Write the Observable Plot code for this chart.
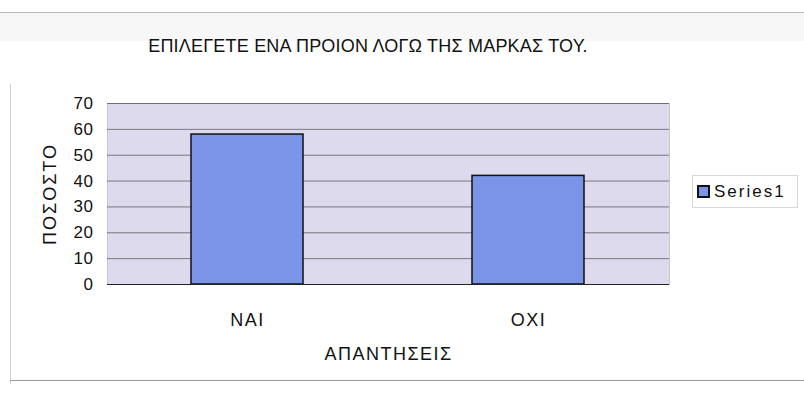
<!DOCTYPE html>
<html>
<head>
<meta charset="utf-8">
<script src="https://cdn.jsdelivr.net/npm/d3@7"></script>
<script src="https://cdn.jsdelivr.net/npm/@observablehq/plot@0.6"></script>
<style>
  html, body { margin: 0; padding: 0; background: #fff; }
  #wrap { position: relative; width: 804px; height: 393px; overflow: hidden;
          font-family: "Liberation Sans", Arial, sans-serif; }
  #frameTop { position: absolute; left: 0; top: 12px; width: 804px; height: 28px;
              border-top: 1px solid #b8b8b8; background: #f7f7f7; }
  #frameLeft { position: absolute; left: 10px; top: 84px; width: 0; height: 300px; border-left: 1px solid #cfcfcf; }
  #frameBottom { position: absolute; left: 10px; top: 380px; width: 794px; height: 0; border-top: 1px solid #9a9a9a; }
  #title { position: absolute; left: 0; top: 36px; width: 736px; text-align: center;
           font-size: 18px; color: #111; letter-spacing: 0.2px; white-space: nowrap; }
  #chart { position: absolute; left: 0; top: 0; }
  #legend { position: absolute; left: 692px; top: 175px; width: 106px; height: 33px; box-sizing: border-box;
            border: 1px solid #d8d8d8; background: #fff; font-size: 17px; color: #111; letter-spacing: 2px;
            display: flex; align-items: center; padding-left: 4px; }
  #legend .sw { width: 9px; height: 9px; background: #7b93e6; border: 2px solid #111; margin-right: 4px; }
  g[aria-label="x-axis tick label"] { letter-spacing: 1.5px; }
  g[aria-label="x-axis label"] { letter-spacing: 1.5px; }
  g[aria-label="y-axis tick label"] { letter-spacing: 0.5px; }
  g[aria-label="y-axis label"] { letter-spacing: 2px; }
</style>
</head>
<body>
<div id="wrap">
  <div id="frameTop"></div>
  <div id="frameLeft"></div>
  <div id="frameBottom"></div>
  <div id="chart"></div>
  <div id="title">ΕΠΙΛΕΓΕΤΕ ΕΝΑ ΠΡΟΙΟΝ ΛΟΓΩ ΤΗΣ ΜΑΡΚΑΣ ΤΟΥ.</div>
  <div id="legend"><span class="sw"></span><span>Series1</span></div>
</div>
<script>
const categories = ["ΝΑΙ", "ΟΧΙ"];
const values = [58, 42];
const yTicks = [0, 10, 20, 30, 40, 50, 60, 70];
const seriesName = "Series1";
const xTitle = "ΑΠΑΝΤΗΣΕΙΣ";
const yTitle = "ΠΟΣΟΣΤΟ";

const data = categories.map((c, i) => ({answer: c, value: values[i], series: seriesName}));

const plot = Plot.plot({
  width: 804,
  height: 393,
  marginLeft: 107,
  marginRight: 135,
  marginTop: 103,
  marginBottom: 109,
  style: {fontFamily: '"Liberation Sans", Arial, sans-serif', fontSize: "17px", color: "#111", background: "transparent"},
  x: {domain: categories, paddingInner: 0.6, paddingOuter: 0.3},
  y: {domain: [0, 70]},
  marks: [
    Plot.frame({fill: "#dddaee", stroke: "#c8c6d6"}),
    Plot.gridY(yTicks.filter(t => t > 0), {stroke: "#555", strokeOpacity: 0.75, strokeWidth: 1}),
    Plot.barY(data, {x: "answer", y: "value", fill: "#7c94e8", stroke: "#111", strokeWidth: 1.5}),
    Plot.ruleY([0], {stroke: "#222", strokeWidth: 1.2}),
    Plot.axisY({ticks: yTicks, tickSize: 0, tickPadding: 14, fontSize: 17, label: null}),
    Plot.axisY({ticks: [], tickSize: 0, fontSize: 18, label: yTitle, labelAnchor: "center", labelOffset: 64, labelArrow: "none"}),
    Plot.axisX({tickSize: 0, tickPadding: 29, fontSize: 18, label: null}),
    Plot.axisX({ticks: [], tickSize: 0, fontSize: 18, label: xTitle, labelAnchor: "center", labelOffset: 75, labelArrow: "none"})
  ]
});
document.getElementById("chart").appendChild(plot);
</script>
</body>
</html>
